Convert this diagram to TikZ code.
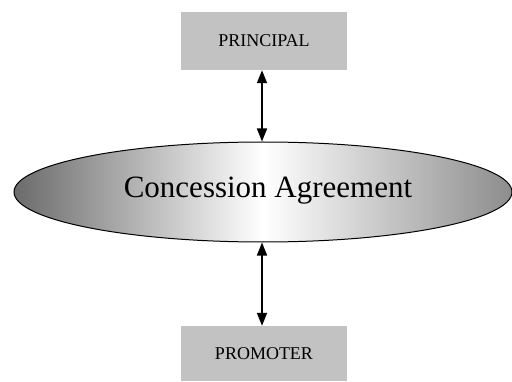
\documentclass[tikz,border=0pt]{standalone}
\usepackage{fontspec}
\setmainfont{Liberation Serif}
\usetikzlibrary{arrows.meta,shapes.geometric}
\begin{document}
\begin{tikzpicture}[x=1pt,y=1pt,
  party/.style={fill=black!24, minimum width=166pt, inner sep=0pt, font=\fontsize{18}{20}\selectfont},
  link/.style={line width=1.5pt, {Triangle[length=13pt,width=10pt]}-{Triangle[length=13pt,width=10pt]}}]
\useasboundingbox (0,0) rectangle (512,381);
% the two parties
\node[party, minimum height=58pt] (principal) at (264,340) {PRINCIPAL};
\node[party, minimum height=55pt] (promoter) at (264,27.5) {PROMOTER};
% the agreement between them
\node[ellipse, draw=black, line width=1pt, minimum width=498pt, minimum height=100pt,
      inner sep=0pt, left color=black!58, right color=black!45, middle color=white,
      font=\fontsize{31}{34}\selectfont] (agreement) at (263,189) {};
\node[font=\fontsize{31}{34}\selectfont, inner sep=0pt] (title) at (268,190) {Concession Agreement};
\draw[link] (principal.south -| 262,0) -- (agreement.north -| 262,0);
\draw[link] (agreement.south -| 262,0) -- (promoter.north -| 262,0);
\end{tikzpicture}
\end{document}
